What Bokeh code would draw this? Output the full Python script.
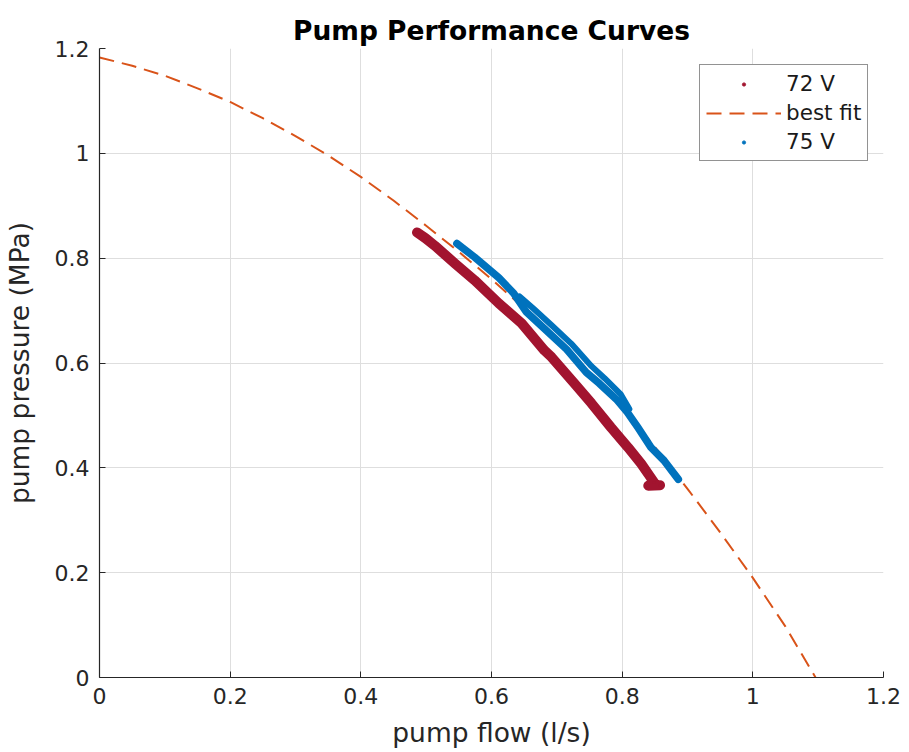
from bokeh.plotting import figure
from bokeh.models import ColumnDataSource, FixedTicker, Legend, LegendItem, Range1d
from bokeh.embed import file_html
from bokeh.resources import INLINE

# ---- data ----
flow_72 = [0.486, 0.499, 0.513, 0.544, 0.574, 0.611, 0.646, 0.681, 0.692, 0.727,
           0.753, 0.783, 0.809, 0.829, 0.849, 0.840, 0.858]
pres_72 = [0.849, 0.838, 0.824, 0.790, 0.758, 0.714, 0.676, 0.624, 0.611, 0.561,
           0.523, 0.477, 0.439, 0.408, 0.372, 0.366, 0.367]

# 75 V: first pass (top to bottom) and second pass (partial, back up)
flow_75_a = [0.547, 0.574, 0.611, 0.634, 0.653, 0.684, 0.715, 0.745, 0.765, 0.791,
             0.808, 0.824, 0.844, 0.864, 0.886]
pres_75_a = [0.828, 0.802, 0.763, 0.733, 0.698, 0.662, 0.626, 0.582, 0.561, 0.531,
             0.506, 0.477, 0.439, 0.414, 0.378]
flow_75_b = [0.811, 0.798, 0.773, 0.753, 0.722, 0.692, 0.664, 0.643]
pres_75_b = [0.512, 0.540, 0.571, 0.594, 0.637, 0.672, 0.704, 0.727]

fit_flow = [0.0, 0.05, 0.1, 0.15, 0.2, 0.25, 0.3, 0.35, 0.4, 0.45, 0.5, 0.55,
            0.6, 0.65, 0.7, 0.75, 0.8, 0.85, 0.9, 0.95, 1.0, 1.05, 1.096]
fit_pres = [1.183, 1.167, 1.148, 1.124, 1.098, 1.067, 1.033, 0.996, 0.955, 0.910,
            0.862, 0.812, 0.760, 0.704, 0.645, 0.582, 0.515, 0.440, 0.360, 0.277,
            0.190, 0.097, 0.0]

x_ticks = [0, 0.2, 0.4, 0.6, 0.8, 1, 1.2]
x_tick_labels = ["0", "0.2", "0.4", "0.6", "0.8", "1", "1.2"]
y_ticks = [0, 0.2, 0.4, 0.6, 0.8, 1, 1.2]
y_tick_labels = ["0", "0.2", "0.4", "0.6", "0.8", "1", "1.2"]

RED = "#A2142F"
BLUE = "#0072BD"
ORANGE = "#D95319"
AX = "#262626"
FONT = "DejaVu Sans"

p = figure(width=909, height=752, output_backend="svg", toolbar_location=None,
           x_range=Range1d(0, 1.2), y_range=Range1d(0, 1.2),
           min_border_left=97, min_border_right=26, min_border_top=48, min_border_bottom=75,
           title="Pump Performance Curves")
p.outline_line_color = None
p.background_fill_color = "white"
p.border_fill_color = "white"

p.title.align = "center"
p.title.text_font = FONT
p.title.text_font_size = "26.5px"
p.title.text_font_style = "bold"
p.title.text_color = "black"
p.title.standoff = 6

for ax, ticks, labels, lab in ((p.xaxis[0], x_ticks, x_tick_labels, "pump flow (l/s)"),
                               (p.yaxis[0], y_ticks, y_tick_labels, "pump pressure (MPa)")):
    ax.ticker = FixedTicker(ticks=ticks)
    ax.major_label_overrides = {t: l for t, l in zip(ticks, labels)}
    ax.axis_label = lab
    ax.axis_label_text_font = FONT
    ax.axis_label_text_font_size = "26.5px"
    ax.axis_label_text_font_style = "normal"
    ax.axis_label_text_color = AX
    ax.major_label_text_font = FONT
    ax.major_label_text_font_size = "22px"
    ax.major_label_text_color = AX
    ax.axis_line_color = AX
    ax.axis_line_width = 1.2
    ax.major_tick_line_color = AX
    ax.major_tick_in = 6
    ax.major_tick_out = 0
    ax.minor_tick_line_color = None
    ax.major_label_standoff = 10
p.xaxis[0].axis_label_standoff = 10
p.yaxis[0].axis_label_standoff = 17

p.grid.grid_line_color = "#DEDEDE"
p.grid.grid_line_width = 1

src72 = ColumnDataSource(dict(x=flow_72, y=pres_72))
src75a = ColumnDataSource(dict(x=flow_75_a, y=pres_75_a))
src75b = ColumnDataSource(dict(x=flow_75_b, y=pres_75_b))
srcfit = ColumnDataSource(dict(x=fit_flow, y=fit_pres))

fit_r = p.line("x", "y", source=srcfit, line_color=ORANGE, line_width=2, line_dash="15 8")

p.line("x", "y", source=src72, line_color=RED, line_width=10,
       line_join="round", line_cap="round")
dots72 = p.scatter("x", "y", source=src72, size=3, color=RED)

p.line("x", "y", source=src75a, line_color=BLUE, line_width=7.5,
       line_join="round", line_cap="round")
p.line("x", "y", source=src75b, line_color=BLUE, line_width=6,
       line_join="round", line_cap="round")
dots75 = p.scatter("x", "y", source=src75a, size=3, color=BLUE)

legend = Legend(items=[LegendItem(label="72 V", renderers=[dots72]),
                       LegendItem(label="best fit", renderers=[fit_r]),
                       LegendItem(label="75 V", renderers=[dots75])],
                location=(600, 516))
legend.glyph_width = 75
legend.glyph_height = 8
legend.label_height = 23
legend.label_standoff = 5
legend.padding = 6
legend.spacing = 4
legend.margin = 0
legend.label_text_font = FONT
legend.label_text_font_size = "21.5px"
legend.label_text_color = "#1A1A1A"
legend.border_line_color = AX
legend.border_line_width = 1
legend.background_fill_color = "white"
legend.background_fill_alpha = 1
p.add_layout(legend, "center")

open("out.html", "w").write(file_html(p, INLINE))
